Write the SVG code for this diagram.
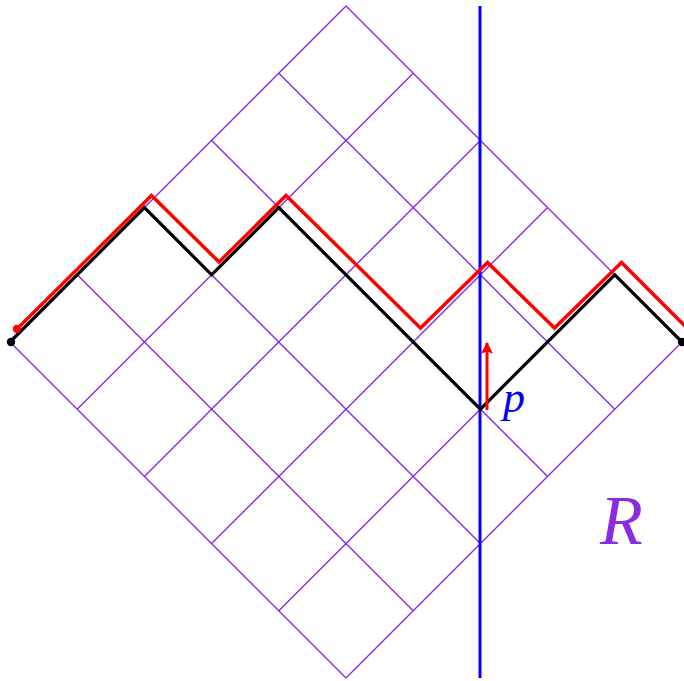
<svg xmlns="http://www.w3.org/2000/svg" width="684" height="681" viewBox="0 0 684 681">
<defs>
<style>
.grid{stroke:#8a2be2;stroke-width:1.4;fill:none}
.blk{stroke:#000;stroke-width:3.2;fill:none;stroke-linejoin:miter}
.red{stroke:#f00;stroke-width:3.4;fill:none}
.lbl{font-family:"Liberation Serif",serif;font-style:italic}
</style>
<marker id="ah" viewBox="0 0 10 10" refX="9" refY="5" markerWidth="5" markerHeight="4" orient="auto" markerUnits="strokeWidth">
<path d="M0,0 L10,5 L0,10 L2,5 Z" fill="#f00"/>
</marker>
</defs>
<rect width="684" height="681" fill="#fff"/>
<g id="grid" class="grid">
<path d="M346,6 L10,342 M413.2,73.2 L77.2,409.2 M480.4,140.4 L144.4,476.4 M547.6,207.6 L211.6,543.6 M614.8,274.8 L278.8,610.8 M682,342 L346,678"/>
<path d="M346,6 L682,342 M278.8,73.2 L614.8,409.2 M211.6,140.4 L547.6,476.4 M144.4,207.6 L480.4,543.6 M77.2,274.8 L413.2,610.8 M10,342 L346,678"/>
</g>
<g id="axis">
<line x1="480" y1="6" x2="480" y2="678" stroke="#00f" stroke-width="3"/>
</g>
<g id="black-path">
<polyline class="blk" points="10,342 144.4,207.6 211.6,274.8 278.8,207.6 480.4,409.2 614.8,274.8 682,342"/>
<circle cx="11" cy="342" r="4.2" fill="#000"/>
<circle cx="682" cy="342" r="4.2" fill="#000"/>
</g>
<g id="red-path">
<polyline class="red" points="17,329 151.5,195.5 219,262 286,195.5 420.5,328 487.5,262.5 554.5,328 621.5,262.5 688,329"/>
<circle cx="17" cy="329" r="4.2" fill="#f00"/>
</g>
<g id="connectors">
<line x1="487" y1="410" x2="487" y2="343" stroke="#f00" stroke-width="3" marker-end="url(#ah)"/>
</g>
<g id="label-p">
<text class="lbl" x="503" y="412" font-size="44" fill="#00f">p</text>
</g>
<g id="label-R">
<text class="lbl" x="600" y="544" font-size="70" fill="#8a2be2">R</text>
</g>
</svg>
